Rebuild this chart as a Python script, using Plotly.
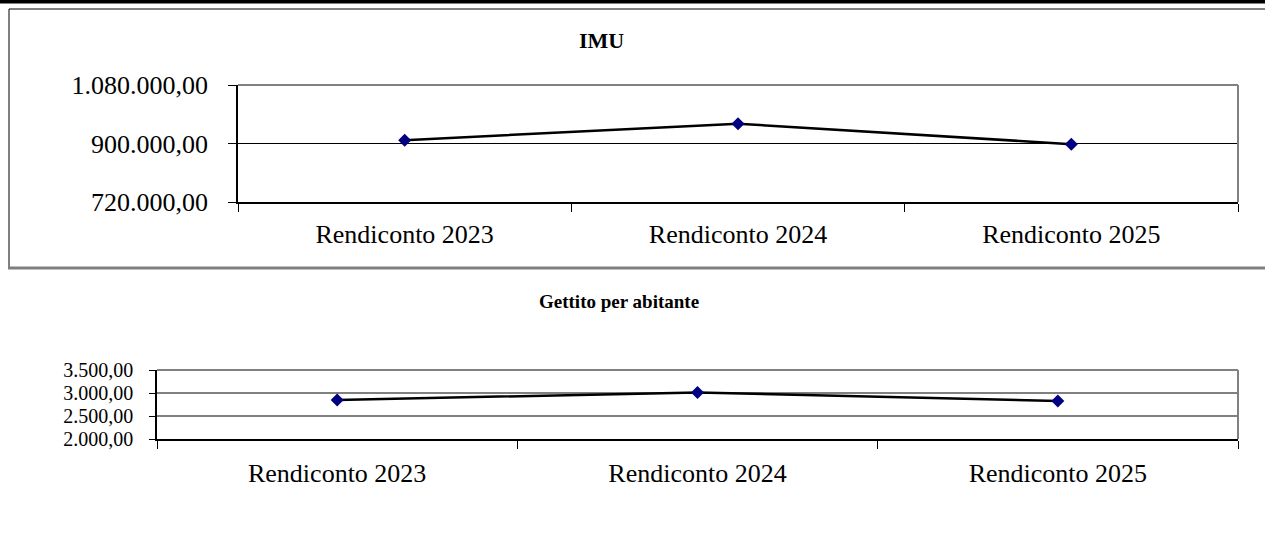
import plotly.graph_objects as go

# ---- data ----
categories = ["Rendiconto 2023", "Rendiconto 2024", "Rendiconto 2025"]
imu_values = [910000, 961000, 898000]
per_abitante_values = [2850, 3010, 2825]
title_top = "IMU"
title_bottom = "Gettito per abitante"

W, H = 1265, 537
def px(x):
    return x / W
def py(y):
    return 1 - y / H

FONT = "Liberation Serif"
NAVY = "#000080"
GRAY = "#808080"

fig = go.Figure()

fig.add_trace(go.Scatter(
    x=categories, y=imu_values, mode="lines+markers",
    line=dict(color="black", width=2.5),
    marker=dict(symbol="diamond", size=10, color=NAVY),
    xaxis="x", yaxis="y", showlegend=False, hoverinfo="skip"))

fig.add_trace(go.Scatter(
    x=categories, y=per_abitante_values, mode="lines+markers",
    line=dict(color="black", width=2.5),
    marker=dict(symbol="diamond", size=10, color=NAVY),
    xaxis="x2", yaxis="y2", showlegend=False, hoverinfo="skip"))

common_x = dict(type="category", tickson="boundaries", ticks="outside",
                range=[-0.5, len(categories) - 0.5], automargin=False,
                ticklen=8, tickcolor="black", tickwidth=1,
                showline=True, linecolor="black", linewidth=1.5,
                showgrid=False, zeroline=False, fixedrange=True,
                tickfont=dict(family=FONT, size=26, color="black"))

fig.update_layout(
    width=W, height=H, margin=dict(l=0, r=0, t=0, b=0, pad=0),
    paper_bgcolor="white", plot_bgcolor="white",
    separators=",.",
    xaxis=dict(domain=[px(238), px(1238)], anchor="y",
               ticklabelstandoff=8, **common_x),
    yaxis=dict(domain=[py(202), py(85)], anchor="x", automargin=False,
               range=[720000, 1080000], tickmode="linear", tick0=720000, dtick=180000,
               tickformat=",.2f", ticks="outside", ticklen=8, tickcolor="black",
               showline=True, linecolor="black", linewidth=1.5,
               showgrid=True, gridcolor="black", gridwidth=1, zeroline=False,
               ticklabelstandoff=15, fixedrange=True,
               tickfont=dict(family=FONT, size=26, color="black")),
    xaxis2=dict(domain=[px(157), px(1238)], anchor="y2",
                ticklabelstandoff=10, **common_x),
    yaxis2=dict(domain=[py(439), py(370)], anchor="x2", automargin=False,
                range=[2000, 3500], tickmode="linear", tick0=2000, dtick=500,
                tickformat=",.2f", ticks="outside", ticklen=6, tickcolor="black",
                showline=True, linecolor="black", linewidth=1.5,
                showgrid=True, gridcolor=GRAY, gridwidth=2, zeroline=False,
                ticklabelstandoff=12, fixedrange=True,
                tickfont=dict(family=FONT, size=20, color="black")),
)

shapes = []
# black bar at very top
shapes.append(dict(type="rect", xref="paper", yref="paper", x0=0, x1=1,
                   y0=py(3.5), y1=1, fillcolor="black", line=dict(width=0), layer="above"))
# frame around top chart
shapes.append(dict(type="line", xref="paper", yref="paper", x0=px(9), x1=1,
                   y0=py(9), y1=py(9), line=dict(color="black", width=1), layer="above"))
shapes.append(dict(type="line", xref="paper", yref="paper", x0=px(9), x1=px(9),
                   y0=py(9), y1=py(268), line=dict(color="black", width=1), layer="above"))
shapes.append(dict(type="line", xref="paper", yref="paper", x0=px(8), x1=1,
                   y0=py(268), y1=py(268), line=dict(color=GRAY, width=3), layer="above"))
# gray plot border top & right (top chart)
shapes.append(dict(type="line", xref="x domain", yref="y domain", x0=0, x1=1,
                   y0=1, y1=1, line=dict(color=GRAY, width=2), layer="above"))
shapes.append(dict(type="line", xref="x domain", yref="y domain", x0=1, x1=1,
                   y0=0, y1=1, line=dict(color=GRAY, width=2), layer="above"))
# gray plot border top & right (bottom chart)
shapes.append(dict(type="line", xref="x2 domain", yref="y2 domain", x0=0, x1=1,
                   y0=1, y1=1, line=dict(color=GRAY, width=2), layer="above"))
shapes.append(dict(type="line", xref="x2 domain", yref="y2 domain", x0=1, x1=1,
                   y0=0, y1=1, line=dict(color=GRAY, width=2), layer="above"))
fig.update_layout(shapes=shapes)

fig.add_annotation(text="<b>%s</b>" % title_top, xref="paper", yref="paper",
                   x=px(601), y=py(41), xanchor="center", yanchor="middle",
                   showarrow=False,
                   font=dict(family=FONT, size=22, color="black"))
fig.add_annotation(text="<b>%s</b>" % title_bottom, xref="paper", yref="paper",
                   x=px(619), y=py(301), xanchor="center", yanchor="middle",
                   showarrow=False,
                   font=dict(family=FONT, size=19, color="black"))

fig.write_html("out.html", config={"displayModeBar": False},
               post_script="document.body.style.margin='0';document.body.style.padding='0';")
